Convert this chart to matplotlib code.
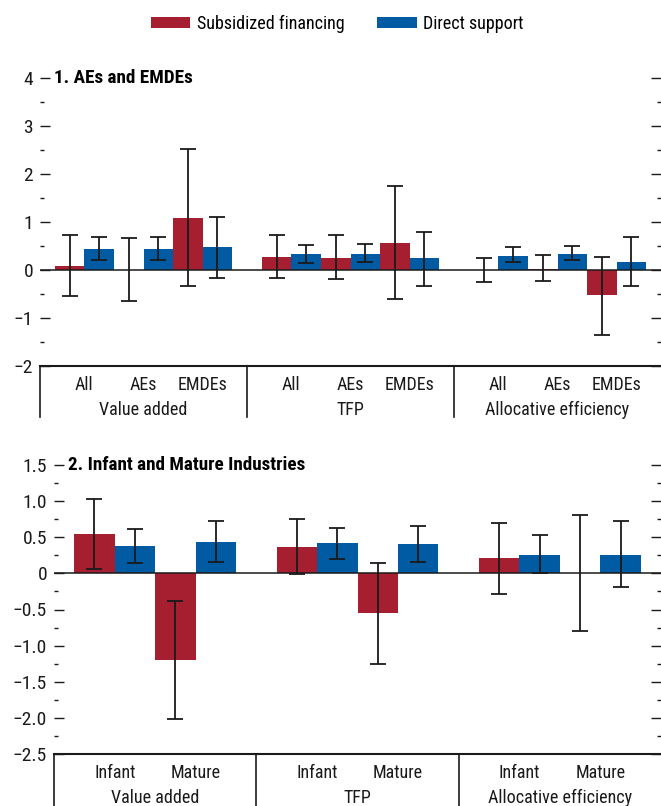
import matplotlib
matplotlib.use("Agg")
import matplotlib.pyplot as plt
from matplotlib import font_manager as fm
from matplotlib.patches import Patch
from matplotlib.lines import Line2D
from matplotlib.transforms import blended_transform_factory
from matplotlib.ticker import MultipleLocator, FuncFormatter

# ---- data -------------------------------------------------------------
series_names = ["Subsidized financing", "Direct support"]

p1_title = "1. AEs and EMDEs"
p1_groups = ["Value added", "TFP", "Allocative efficiency"]
p1_cats = ["All", "AEs", "EMDEs"]
p1_sub = [0.09, 0.01, 1.09, 0.28, 0.26, 0.57, 0.00, 0.02, -0.53]
p1_sub_lo = [-0.55, -0.65, -0.33, -0.16, -0.18, -0.60, -0.25, -0.22, -1.35]
p1_sub_hi = [0.72, 0.67, 2.52, 0.72, 0.72, 1.74, 0.26, 0.31, 0.28]
p1_dir = [0.44, 0.44, 0.47, 0.34, 0.34, 0.24, 0.30, 0.34, 0.17]
p1_dir_lo = [0.21, 0.21, -0.16, 0.15, 0.17, -0.33, 0.17, 0.20, -0.34]
p1_dir_hi = [0.68, 0.68, 1.10, 0.53, 0.54, 0.80, 0.47, 0.49, 0.69]

p2_title = "2. Infant and Mature Industries"
p2_groups = ["Value added", "TFP", "Allocative efficiency"]
p2_cats = ["Infant", "Mature"]
p2_sub = [0.54, -1.20, 0.36, -0.55, 0.21, 0.00]
p2_sub_lo = [0.06, -2.02, -0.01, -1.25, -0.28, -0.80]
p2_sub_hi = [1.03, -0.38, 0.75, 0.14, 0.70, 0.81]
p2_dir = [0.375, 0.44, 0.42, 0.40, 0.26, 0.26]
p2_dir_lo = [0.15, 0.16, 0.20, 0.16, 0.00, -0.19]
p2_dir_hi = [0.61, 0.72, 0.63, 0.65, 0.53, 0.72]

# ---- style ------------------------------------------------------------
RED = "#A61F30"
BLUE = "#005BA3"
INK = "#1a1a1a"

available = {f.name for f in fm.fontManager.ttflist}
family = "DejaVu Sans"
stretch = "normal"
for cand in ["Liberation Sans Narrow", "Roboto Condensed", "Open Sans Condensed"]:
    if cand in available:
        family = cand
        break
else:
    stretch = "condensed"
plt.rcParams["font.family"] = [family, "DejaVu Sans"]
plt.rcParams["font.stretch"] = stretch
FS = 13
FS_TICK = 14
FS_TITLE = 13.8

fig = plt.figure(figsize=(6.61, 8.06), dpi=100)
W, H = 661, 806


def px_axes(left, top, right, bottom):
    return fig.add_axes([left / W, 1 - bottom / H, (right - left) / W, (bottom - top) / H])


def draw_panel(ax, title, groups, cats, sub, sub_lo, sub_hi, dr, dr_lo, dr_hi,
               ylim, major, minor, fmt, box_depth):
    n = len(cats)
    pos = [g * (n + 0.5) + c for g in range(len(groups)) for c in range(n)]
    bw = 0.5
    xr = [p - bw / 2 for p in pos]
    xb = [p + bw / 2 for p in pos]
    ax.bar(xr, sub, width=bw, color=RED, zorder=2)
    ax.bar(xb, dr, width=bw, color=BLUE, zorder=2)
    ekw = dict(fmt="none", ecolor=INK, elinewidth=1.3, capsize=5.5, capthick=1.3, zorder=4)
    ax.errorbar(xr, sub, yerr=[[v - lo for v, lo in zip(sub, sub_lo)],
                                [hi - v for v, hi in zip(sub, sub_hi)]], **ekw)
    ax.errorbar(xb, dr, yerr=[[v - lo for v, lo in zip(dr, dr_lo)],
                               [hi - v for v, hi in zip(dr, dr_hi)]], **ekw)
    ax.axhline(0, color=INK, lw=1.1, zorder=3)

    total = len(groups) * (n + 0.5) - 0.5
    ax.set_xlim(-0.75, total - 1 + 0.75)
    ax.set_ylim(*ylim)
    ax.set_xticks([])
    ax.yaxis.set_major_locator(MultipleLocator(major))
    ax.yaxis.set_minor_locator(MultipleLocator(minor))
    ax.yaxis.set_major_formatter(FuncFormatter(fmt))
    ax.tick_params(axis="y", which="both", direction="in", left=True, right=True,
                   labelleft=True, labelright=False, colors=INK, labelsize=FS_TICK, pad=5)
    ax.tick_params(axis="y", which="major", length=7, width=1)
    ax.tick_params(axis="y", which="minor", length=3, width=1)
    for s in ["left", "right", "top"]:
        ax.spines[s].set_visible(False)
    ax.spines["bottom"].set_linewidth(1.5)
    ax.spines["bottom"].set_color(INK)
    ax.patch.set_alpha(0)

    # category box below the axis
    trans = blended_transform_factory(ax.transData, ax.transAxes)
    h_px = ax.get_position().height * H
    depth = box_depth / h_px
    seps = [-0.75] + [g * (n + 0.5) - 0.75 for g in range(1, len(groups))]
    for s in seps:
        ax.add_line(Line2D([s, s], [0, -depth], transform=trans, color=INK,
                           lw=1.2, clip_on=False))
    y_cat = -19 / h_px
    y_grp = -44 / h_px
    for p, i in zip(pos, range(len(pos))):
        ax.text(p, y_cat, cats[i % n], transform=trans, ha="center", va="center",
                fontsize=FS, color=INK)
    for g, name in enumerate(groups):
        gc = g * (n + 0.5) + (n - 1) / 2
        ax.text(gc, y_grp, name, transform=trans, ha="center", va="center",
                fontsize=FS, color=INK)

    ax.annotate(title, xy=(0, ylim[1]), xycoords=blended_transform_factory(ax.transAxes, ax.transData),
                xytext=(10, 0), textcoords="offset points", ha="left", va="center",
                fontsize=FS_TITLE, fontweight="bold", color="black")


def fmt_int(v, _):
    return f"{v:.0f}".replace("-", "\u2212")


def fmt_half(v, _):
    if abs(v) < 1e-9:
        return "0"
    return f"{v:.1f}".replace("-", "\u2212")


ax1 = px_axes(40, 78, 661, 366)
draw_panel(ax1, p1_title, p1_groups, p1_cats, p1_sub, p1_sub_lo, p1_sub_hi,
           p1_dir, p1_dir_lo, p1_dir_hi, (-2, 4), 1, 0.5, fmt_int, 51)

ax2 = px_axes(54, 465, 661, 754)
draw_panel(ax2, p2_title, p2_groups, p2_cats, p2_sub, p2_sub_lo, p2_sub_hi,
           p2_dir, p2_dir_lo, p2_dir_hi, (-2.5, 1.5), 0.5, 0.25, fmt_half, 60)

handles = [Patch(facecolor=RED, label=series_names[0]),
           Patch(facecolor=BLUE, label=series_names[1])]
fig.legend(handles=handles, loc="center", bbox_to_anchor=(337 / W, 1 - 24 / H), ncol=2,
           frameon=False, fontsize=FS, handlelength=2.2, handleheight=0.55,
           handletextpad=0.35, columnspacing=1.8)

fig.savefig("out.png", dpi=100)
